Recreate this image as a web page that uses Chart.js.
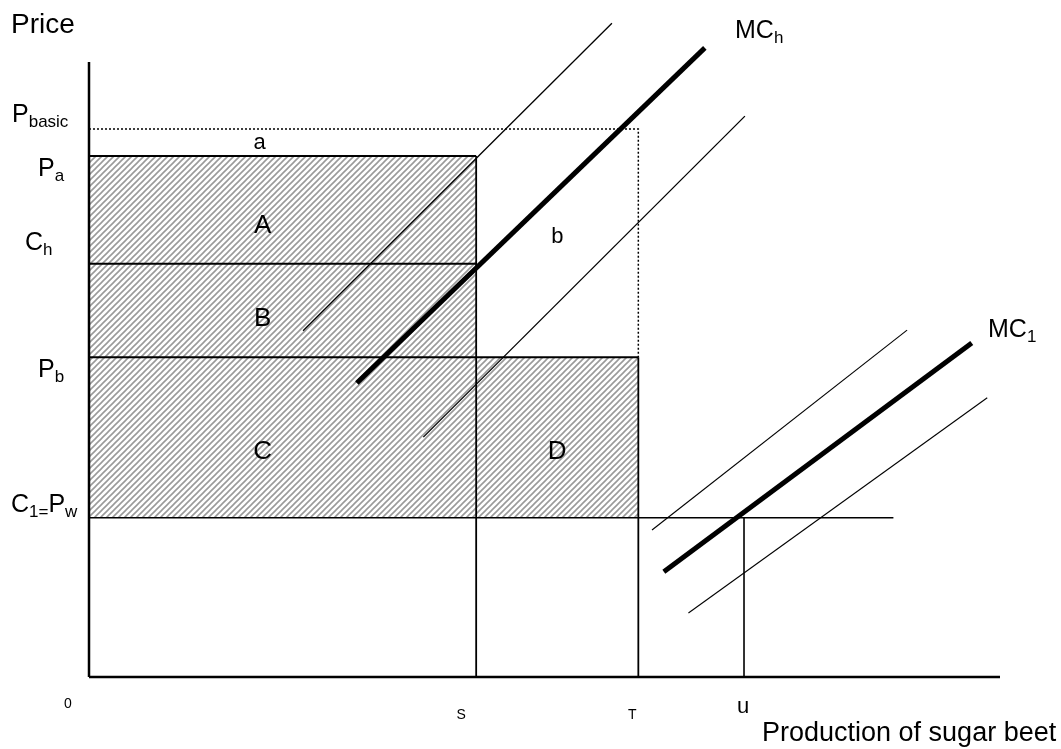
<!DOCTYPE html>
<html>
<head>
<meta charset="utf-8">
<script src="https://cdn.jsdelivr.net/npm/chart.js@4"></script>
<style>
    html, body { margin: 0; padding: 0; background: #fff; }
    canvas { display: block; }
</style>
</head>
<body>
<canvas id="sugarChart" width="1061" height="749"></canvas>
<script>
// quantities on the x axis (0..100) and price levels on the y axis (0..100)
const qtyNames = ['S', 'T', 'u'];
const qtyValues = [42.5, 60.3, 71.9];
const priceNames = ['Pbasic', 'Pa', 'Ch', 'Pb', 'Pw'];
const priceValues = [89.1, 84.7, 67.2, 52.0, 25.9];
const worldLineEnd = 88.3;

// marginal cost curves, [x, y] end points
const mcHighThick = [[29.4, 47.8], [67.6, 102.3]];
const mcHighUpper = [[23.5, 56.3], [57.4, 106.3]];
const mcHighLower = [[36.7, 39.0], [72.0, 91.2]];
const mcLowThick = [[63.1, 17.1], [96.9, 54.3]];
const mcLowUpper = [[61.8, 23.9], [89.8, 56.4]];
const mcLowLower = [[65.8, 10.4], [98.6, 45.4]];

const S = qtyValues[0], T = qtyValues[1], U = qtyValues[2];
const [Pbasic, Pa, Ch, Pb, Pw] = priceValues;

function makeHatch() {
    const c = document.createElement('canvas');
    c.width = 6;
    c.height = 6;
    const g = c.getContext('2d');
    g.fillStyle = '#ffffff';
    g.fillRect(0, 0, 6, 6);
    g.strokeStyle = '#9a9a9a';
    g.lineWidth = 1.6;
    g.beginPath();
    g.moveTo(-1, 7); g.lineTo(7, -1);
    g.moveTo(-4, 4); g.lineTo(4, -4);
    g.moveTo(2, 10); g.lineTo(10, 2);
    g.stroke();
    return g.createPattern(c, 'repeat');
}

function seg(points, width, dash) {
    return {
        data: points.map(p => ({ x: p[0], y: p[1] })),
        showLine: true,
        borderColor: '#000',
        borderWidth: width,
        borderDash: dash || [],
        borderCapStyle: 'butt',
        pointRadius: 0,
        fill: false,
        clip: false
    };
}

const datasets = [
    seg(mcHighThick, 5),
    seg(mcHighUpper, 1.3),
    seg(mcHighLower, 1.3),
    seg(mcLowThick, 5),
    seg(mcLowUpper, 1.1),
    seg(mcLowLower, 1.1),
    seg([[0, 0], [0, 100]], 2.5),
    seg([[0, 0], [100, 0]], 2.5),
    seg([[0, Pbasic], [T, Pbasic], [T, Pb]], 1.5, [2, 2]),
    seg([[0, Pa], [S, Pa]], 2),
    seg([[0, Ch], [S, Ch]], 2),
    seg([[0, Pb], [T, Pb]], 2),
    seg([[0, Pw], [worldLineEnd, Pw]], 1.6),
    seg([[S, 0], [S, Pa]], 1.8),
    seg([[T, 0], [T, Pb]], 1.8),
    seg([[U, 0], [U, Pw]], 1.6),
    {
        data: [{ x: 0, y: Pa }, { x: S, y: Pa }, { x: S, y: Pb }, { x: T, y: Pb }],
        showLine: true,
        borderWidth: 0,
        pointRadius: 0,
        backgroundColor: makeHatch(),
        fill: { value: Pw }
    }
];

const FONT = '"Liberation Sans", Arial, sans-serif';

// text pieces: [text, size, isSub]
function drawParts(ctx, parts, x, y) {
    parts.forEach(p => {
        ctx.font = p[1] + 'px ' + FONT;
        const dy = p[2] ? 5 : 0;
        ctx.fillText(p[0], x, y + dy);
        x += ctx.measureText(p[0]).width;
    });
}

const priceTickParts = {
    Pbasic: [[['P', 25], ['basic', 17, true]], 12, -7],
    Pa: [[['P', 25], ['a', 17, true]], 38, 20],
    Ch: [[['C', 25], ['h', 17, true]], 25, -14],
    Pb: [[['P', 25], ['b', 17, true]], 38, 20],
    Pw: [[['C', 25], ['1=', 17, true], ['P', 25], ['w', 17, true]], 11, -6]
};
const qtyTickOffsets = { S: [-15, 14], T: [-6, 14], u: [-1, 22] };

const labelPlugin = {
    id: 'diagramLabels',
    afterDraw(chart) {
        const ctx = chart.ctx;
        const xs = chart.scales.x, ys = chart.scales.y;
        ctx.save();
        ctx.fillStyle = '#000';
        ctx.textBaseline = 'alphabetic';
        ctx.textAlign = 'left';

        drawParts(ctx, [['Price', 28]], 11, 33);

        priceNames.forEach((n, i) => {
            const t = priceTickParts[n];
            drawParts(ctx, t[0], t[1], ys.getPixelForValue(priceValues[i]) + t[2]);
        });

        ctx.textAlign = 'center';
        ctx.font = '14px ' + FONT;
        ctx.fillText('0', 68, 708);
        qtyNames.forEach((n, i) => {
            const o = qtyTickOffsets[n];
            ctx.font = o[1] + 'px ' + FONT;
            ctx.fillText(n, xs.getPixelForValue(qtyValues[i]) + o[0], n === 'u' ? 713 : 719);
        });

        ctx.textAlign = 'left';
        ctx.font = '27px ' + FONT;
        ctx.fillText('Production of sugar beet', 762, 741);

        drawParts(ctx, [['MC', 25], ['h', 17, true]], 735, 38);
        drawParts(ctx, [['MC', 25], ['1', 17, true]], 988, 337);

        // area names
        ctx.textAlign = 'center';
        ctx.textBaseline = 'middle';
        ctx.font = '26px ' + FONT;
        const midA = (S + 0) / 2;
        ctx.fillText('A', xs.getPixelForValue(midA) - 20, ys.getPixelForValue((Pa + Ch) / 2) + 16);
        ctx.fillText('B', xs.getPixelForValue(midA) - 20, ys.getPixelForValue((Ch + Pb) / 2) + 8);
        ctx.fillText('C', xs.getPixelForValue(midA) - 20, ys.getPixelForValue((Pb + Pw) / 2) + 14);
        ctx.fillText('D', xs.getPixelForValue((S + T) / 2), ys.getPixelForValue((Pb + Pw) / 2) + 14);
        ctx.font = '22px ' + FONT;
        ctx.fillText('a', xs.getPixelForValue(midA) - 23, ys.getPixelForValue((Pbasic + Pa) / 2));
        ctx.fillText('b', xs.getPixelForValue((S + T) / 2), ys.getPixelForValue(Ch) - 27);
        ctx.restore();
    }
};

new Chart(document.getElementById('sugarChart'), {
    type: 'scatter',
    data: { datasets: datasets },
    options: {
        responsive: false,
        animation: false,
        events: [],
        layout: { padding: { left: 89, right: 61, top: 62, bottom: 72 } },
        scales: {
            x: { type: 'linear', min: 0, max: 100, display: false },
            y: { type: 'linear', min: 0, max: 100, display: false }
        },
        plugins: {
            legend: { display: false },
            tooltip: { enabled: false }
        }
    },
    plugins: [labelPlugin]
});
</script>
</body>
</html>
